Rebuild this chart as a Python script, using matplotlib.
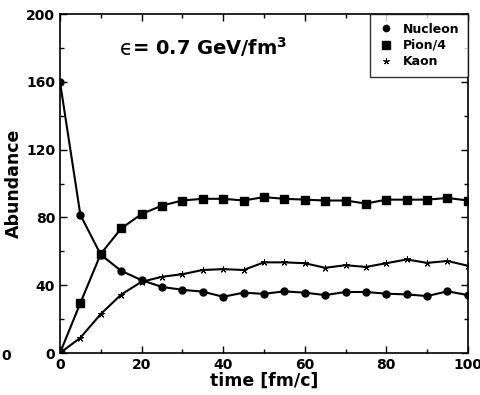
import matplotlib
matplotlib.use('Agg')
import matplotlib.pyplot as plt
from matplotlib.ticker import MultipleLocator

# time steps and abundances
time = [0, 5, 10, 15, 20, 25, 30, 35, 40, 45, 50, 55, 60, 65, 70, 75, 80, 85, 90, 95, 100]
nucleon = [160, 81.5, 58, 48.5, 43, 39, 37.3, 36.2, 33.2, 35.6, 34.9, 36.4, 35.6, 34.2, 36, 36, 35, 34.6, 33.6, 36.4, 34.2]
pion4 = [0, 29.5, 58.5, 73.5, 82, 87, 90, 91, 91, 90, 92, 91, 90.5, 90, 90, 88.2, 90.5, 90.5, 90.5, 91.5, 90]
kaon = [0, 9, 23, 34.5, 42, 45, 46.5, 49, 49.5, 49, 53.5, 53.5, 53, 50.3, 51.8, 50.8, 53, 55.2, 53.2, 54.3, 51.5]

plt.rcParams['font.family'] = 'DejaVu Sans'
plt.rcParams['font.weight'] = 'bold'

fig = plt.figure(figsize=(4.81, 3.95), dpi=100)
ax = fig.add_axes([0.1247, 0.1063, 0.848, 0.858])

ax.plot(time, nucleon, '-o', color='k', lw=1.5, ms=5, label='Nucleon')
ax.plot(time, pion4, '-s', color='k', lw=1.5, ms=6, label='Pion/4')
ax.plot(time, kaon, '-', marker=(5, 2, 0), color='k', lw=1.5, ms=5, mew=0.7, label='Kaon')

ax.set_xlim(0, 100)
ax.set_ylim(0, 200)
ax.xaxis.set_major_locator(MultipleLocator(20))
ax.xaxis.set_minor_locator(MultipleLocator(10))
ax.yaxis.set_major_locator(MultipleLocator(40))
ax.yaxis.set_minor_locator(MultipleLocator(20))
ax.tick_params(which='both', direction='in', top=True, right=True, labelsize=10, width=1)
ax.tick_params(which='major', length=5)
ax.tick_params(which='minor', length=3)
for s in ax.spines.values():
    s.set_linewidth(1.2)

ax.set_xlabel('time [fm/c]', fontsize=12.5, fontweight='bold', labelpad=0)
ax.set_ylabel('Abundance', fontsize=12.5, fontweight='bold', labelpad=2)

ax.text(0.148, 0.88, '\u03f5', transform=ax.transAxes, fontsize=15,
        fontweight='normal', va='baseline')
ax.text(0.176, 0.88, '= 0.7 GeV/fm$^{\\mathbf{3}}$', transform=ax.transAxes,
        fontsize=14, fontweight='bold', va='baseline')

leg = ax.legend(loc='upper right', fontsize=9, frameon=True, fancybox=False,
                edgecolor='k', borderaxespad=0, handlelength=1.2, handletextpad=0.7,
                labelspacing=0.25, borderpad=0.7, markerscale=0.9)
leg.get_frame().set_linewidth(1.0)
for line in leg.get_lines():
    line.set_linestyle('')

fig.text(0.012, 0.1, '0', fontsize=10, fontweight='bold', ha='center', va='center')

fig.savefig('out.png', dpi=100)
